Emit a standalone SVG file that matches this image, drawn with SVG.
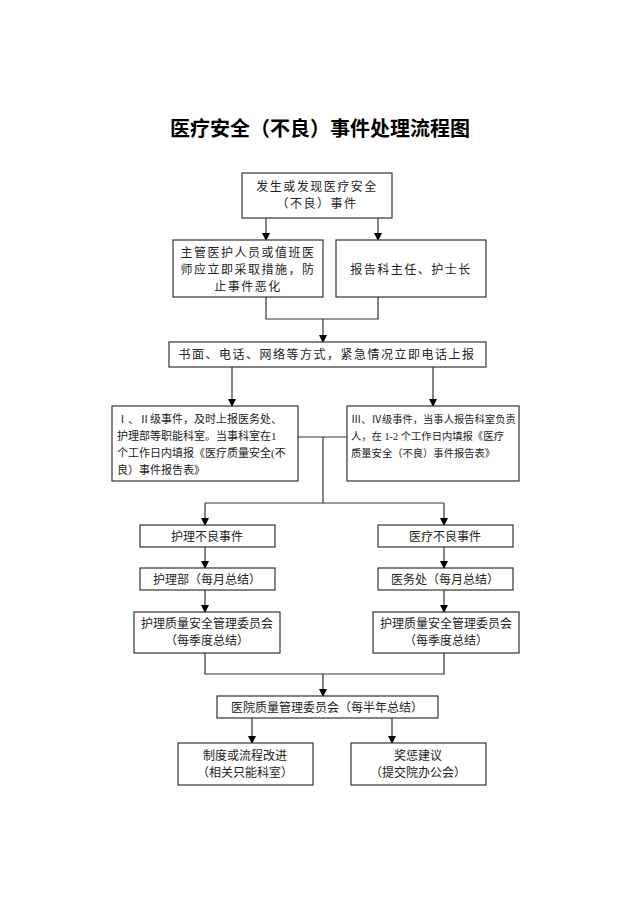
<svg xmlns="http://www.w3.org/2000/svg" width="640" height="906" viewBox="0 0 640 906">
<defs>
<marker id="a" markerWidth="8" markerHeight="8" refX="7" refY="4" orient="auto" markerUnits="userSpaceOnUse"><path d="M0,0 L8,4 L0,8 Z" fill="#000"/></marker>
<style>
rect{fill:#fff;stroke:#333;stroke-width:1.2}
text{font-family:"Liberation Serif","Noto Sans CJK SC",serif;font-size:12px;fill:#222;text-anchor:middle}
.c path{fill:none;stroke:#333;stroke-width:1.2}
.c .ar{marker-end:url(#a)}
.t{font-size:20px;font-weight:bold;fill:#000}
.s{font-size:10.3px;text-anchor:start}
.s2{font-size:11px;text-anchor:start}
</style>
</defs>
<rect x="0" y="0" width="640" height="906" style="fill:#fff;stroke:none"/>
<text class="t" x="320" y="136">医疗安全（不良）事件处理流程图</text>
<g class="c">
<path class="ar" d="M266,218 V240"/>
<path class="ar" d="M378,218 V240"/>
<path d="M266,297 V319 H378 V297"/>
<path class="ar" d="M323,319 V342"/>
<path class="ar" d="M232,367 V406"/>
<path class="ar" d="M433,367 V406"/>
<path d="M298,437 H347"/>
<path d="M323,437 V503"/>
<path d="M205,503 H444"/>
<path class="ar" d="M205,503 V525"/>
<path class="ar" d="M444,503 V525"/>
<path class="ar" d="M205,547 V568"/>
<path class="ar" d="M444,547 V568"/>
<path class="ar" d="M205,590 V612"/>
<path class="ar" d="M444,590 V612"/>
<path d="M205,653 V674 H444 V653"/>
<path class="ar" d="M323,674 V696"/>
<path class="ar" d="M252,718 V743"/>
<path class="ar" d="M392,718 V743"/>
</g>
<g id="n1"><rect x="242" y="173" width="150" height="45"/><text x="317" y="191" letter-spacing="1.5">发生或发现医疗安全</text><text x="317" y="208" letter-spacing="1.5">（不良）事件</text></g>
<g id="n2"><rect x="173" y="240" width="150" height="57"/><text x="248" y="257" letter-spacing="1.5">主管医护人员或值班医</text><text x="248" y="274" letter-spacing="1.5">师应立即采取措施，防</text><text x="248" y="291" letter-spacing="1.5">止事件恶化</text></g>
<g id="n3"><rect x="336" y="240" width="150" height="57"/><text x="411" y="274" letter-spacing="1.5">报告科主任、护士长</text></g>
<g id="n4"><rect x="169" y="342" width="317" height="25"/><text x="327" y="359" letter-spacing="1.5">书面、电话、网络等方式，紧急情况立即电话上报</text></g>
<g id="n5"><rect x="112" y="406" width="186" height="75"/>
<text class="s2" x="117" y="423">Ⅰ、Ⅱ级事件，及时上报医务处、</text>
<text class="s2" x="117" y="440">护理部等职能科室。当事科室在1</text>
<text class="s2" x="117" y="457">个工作日内填报《医疗质量安全(不</text>
<text class="s2" x="117" y="474">良）事件报告表》</text></g>
<g id="n6"><rect x="347" y="406" width="172" height="75"/>
<text class="s" x="351" y="423">Ⅲ、Ⅳ级事件，当事人报告科室负责</text>
<text class="s" x="351" y="440">人，在 1-2 个工作日内填报《医疗</text>
<text class="s" x="351" y="457">质量安全（不良）事件报告表》</text></g>
<g id="n7"><rect x="140" y="525" width="135" height="22"/><text x="207" y="541">护理不良事件</text></g>
<g id="n8"><rect x="378" y="525" width="135" height="22"/><text x="445" y="541">医疗不良事件</text></g>
<g id="n9"><rect x="140" y="568" width="135" height="22"/><text x="207" y="584">护理部（每月总结）</text></g>
<g id="n10"><rect x="378" y="568" width="135" height="22"/><text x="445" y="584">医务处（每月总结）</text></g>
<g id="n11"><rect x="134" y="612" width="146" height="41"/><text x="207" y="628">护理质量安全管理委员会</text><text x="207" y="645">（每季度总结）</text></g>
<g id="n12"><rect x="373" y="612" width="146" height="41"/><text x="446" y="628">护理质量安全管理委员会</text><text x="446" y="645">（每季度总结）</text></g>
<g id="n13"><rect x="217" y="696" width="221" height="22"/><text x="327" y="712">医院质量管理委员会（每半年总结）</text></g>
<g id="n14"><rect x="178" y="743" width="135" height="42"/><text x="245" y="760">制度或流程改进</text><text x="245" y="777">（相关只能科室）</text></g>
<g id="n15"><rect x="351" y="743" width="135" height="42"/><text x="418" y="760">奖惩建议</text><text x="418" y="777">（提交院办公会）</text></g>
</svg>
